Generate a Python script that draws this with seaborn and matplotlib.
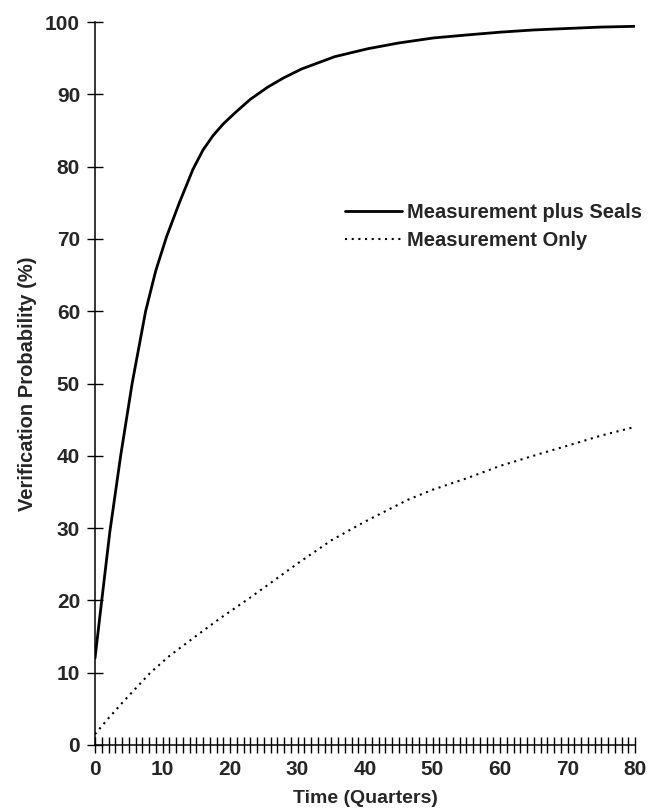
import pandas as pd
import matplotlib
matplotlib.use("Agg")
import matplotlib.pyplot as plt
from matplotlib.ticker import MultipleLocator
import seaborn as sns

# values
seals_t = [0, 1, 2.2, 3.8, 5.5, 7.5, 9, 10.6, 12.5, 14.5, 16, 17.5, 19, 20.7,
           23, 25.6, 28, 30.6, 35.5, 40.4, 45, 50.2, 55, 60.1, 65, 69.9, 75, 80]
seals_p = [12, 20, 29.5, 40, 50, 60, 65.6, 70.3, 75, 79.6, 82.3, 84.3, 85.9, 87.4,
           89.3, 91.0, 92.3, 93.5, 95.2, 96.3, 97.1, 97.8, 98.2, 98.6, 98.9, 99.1, 99.3, 99.4]

meas_t = [0, 2, 4, 6, 8.2, 11, 15, 18.5, 22.4, 26, 30, 35, 40, 46.3,
          50, 55.4, 60, 66, 70, 75, 80]
meas_p = [1.5, 3.7, 5.8, 7.8, 10.0, 12.3, 15.1, 17.5, 20.0, 22.4, 25.1, 28.3, 30.9, 33.9,
          35.3, 37.0, 38.6, 40.3, 41.4, 42.8, 44.0]

labels = ["Measurement plus Seals", "Measurement Only"]

df = pd.concat([
    pd.DataFrame({"t": seals_t, "p": seals_p, "series": labels[0]}),
    pd.DataFrame({"t": meas_t, "p": meas_p, "series": labels[1]}),
])

sns.set_style("ticks")
plt.rcParams["font.family"] = ["Liberation Sans", "DejaVu Sans"]
plt.rcParams["font.weight"] = "bold"

fig = plt.figure(figsize=(6.48, 8.1), dpi=100)
ax = fig.add_axes([95 / 648, 1 - 745 / 810, (635 - 95) / 648, (745 - 22) / 810])

sns.lineplot(data=df, x="t", y="p", hue="series", style="series",
             palette=["black", "black"],
             dashes={labels[0]: "", labels[1]: (1, 2.2)},
             sort=False, legend=False, ax=ax)
lines = ax.get_lines()
lines[0].set_linewidth(2.0)
lines[1].set_linewidth(1.5)

ax.set_xlim(0, 80)
ax.set_ylim(0, 100)
ax.xaxis.set_major_locator(MultipleLocator(10))
ax.xaxis.set_minor_locator(MultipleLocator(1))
ax.yaxis.set_major_locator(MultipleLocator(10))
ax.tick_params(axis="x", which="both", direction="inout", length=11, width=1,
               color="black", pad=5, labelsize=15)
ax.tick_params(axis="y", which="major", direction="inout", length=11.5, width=1,
               color="black", pad=5, labelsize=15)
for lab in ax.get_xticklabels() + ax.get_yticklabels():
    lab.set_fontweight("bold")

sns.despine(ax=ax)
for s in ["left", "bottom"]:
    ax.spines[s].set_linewidth(1.1)
    ax.spines[s].set_color("black")

ax.set_xlabel("Time (Quarters)", fontsize=14, fontweight="bold", labelpad=8)
ax.set_ylabel("Verification Probability (%)", fontsize=14.5, fontweight="bold", labelpad=6)

fig.legend(lines, labels, loc="upper left",
           bbox_to_anchor=(345 / 648, 1 - 203 / 810),
           frameon=False, borderpad=0, borderaxespad=0,
           handlelength=2.85, handletextpad=0.25, labelspacing=0.45,
           prop={"size": 14.5, "weight": "bold"})

fig.savefig("out.png", dpi=100, facecolor="white")
